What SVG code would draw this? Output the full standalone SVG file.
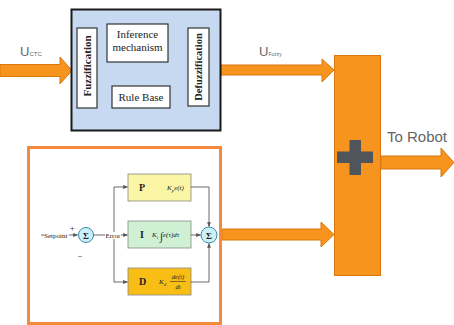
<svg xmlns="http://www.w3.org/2000/svg" width="454" height="325" viewBox="0 0 454 325">
<defs>
<marker id="ah" viewBox="0 0 10 10" refX="9" refY="5" markerWidth="5" markerHeight="5" orient="auto"><path d="M0,1 L10,5 L0,9 z" fill="#222"/></marker>
<marker id="ahs" viewBox="0 0 10 10" refX="9" refY="5" markerWidth="6" markerHeight="6" orient="auto"><path d="M0,1 L10,5 L0,9 z" fill="#555"/></marker>
<style>
.blk{fill:#fff;stroke:#333;stroke-width:1.2}
.ser{font-family:"Liberation Serif",serif;fill:#222}
.lbl{font-family:"Liberation Sans",Arial,sans-serif;fill:#666}
.oarr{fill:#F7941D;stroke:#D9780F;stroke-width:1}
.ln{fill:none;stroke:#444;stroke-width:0.8}
.sum{fill:#CDEFF8;stroke:#3A8FA8;stroke-width:1}
.pid{stroke:#888;stroke-width:0.8}
</style>
</defs>
<rect width="454" height="325" fill="#fff"/>
<g id="connectors">
<path class="oarr" d="M0,64.5 H60 V57 L72,70.5 L60,84 V76.5 H0 z"/>
<path class="oarr" d="M221,65 H322 V59 L334,70 L322,82 V75 H221 z"/>
<path class="oarr" d="M222,229 H321 V222 L334,234.5 L321,247 V240 H222 z"/>
<path class="oarr" d="M381,156 H441 V148 L454,162.5 L441,177 V169 H381 z"/>
<line class="ln" x1="97" y1="41" x2="106.5" y2="41" marker-end="url(#ah)"/>
<line class="ln" x1="168" y1="41" x2="187.5" y2="41" marker-end="url(#ah)"/>
<line class="ln" x1="144" y1="86" x2="144" y2="62.5" marker-end="url(#ah)"/>
</g>
<g id="label-uctc"><text class="lbl" x="20" y="56" font-size="13">U<tspan font-size="6" dy="0">CTC</tspan></text></g>
<g id="label-ufuzzy"><text class="lbl" x="259" y="56" font-size="13">U<tspan font-size="5">Fuzzy</tspan></text></g>
<g id="fuzzy-controller">
<rect x="71.5" y="9.5" width="149" height="121" fill="#C6D9F0" stroke="#1a1a1a" stroke-width="2"/>
</g>
<g id="fuzzification">
<rect class="blk" x="77" y="28" width="20" height="80"/>
<text class="ser" font-size="11" font-weight="bold" text-anchor="middle" transform="translate(90.5,66) rotate(-90)">Fuzzification</text>
</g>
<g id="inference">
<rect class="blk" x="107" y="24" width="61" height="38"/>
<text class="ser" font-size="11" text-anchor="middle" x="137.5" y="38">Inference</text>
<text class="ser" font-size="11" text-anchor="middle" x="137.5" y="51">mechanism</text>
</g>
<g id="defuzzification">
<rect class="blk" x="188" y="28" width="21" height="78"/>
<text class="ser" font-size="10.5" font-weight="bold" text-anchor="middle" transform="translate(202,67) rotate(-90)">Defuzzification</text>
</g>
<g id="rule-base">
<rect class="blk" x="112" y="86" width="58" height="22"/>
<text class="ser" font-size="11" text-anchor="middle" x="141" y="101">Rule Base</text>
</g>
<g id="pid-controller">
<rect x="28.5" y="147.5" width="192" height="176" fill="#fff" stroke="#F58A3A" stroke-width="3"/>
<line class="ln" x1="41" y1="235" x2="44" y2="235"/>
<text class="ser" font-size="7" x="44" y="237.5">Setpoint</text>
<line class="ln" x1="69" y1="235" x2="77.5" y2="235" marker-end="url(#ahs)"/>
<text class="ser" font-size="8" x="70" y="231">+</text>
<text class="ser" font-size="8" x="78" y="258">–</text>
<circle class="sum" cx="86" cy="235" r="7.5"/>
<text class="ser" font-size="9" font-weight="bold" text-anchor="middle" x="86" y="238.5">Σ</text>
<line class="ln" x1="93.5" y1="235" x2="105" y2="235"/>
<text class="ser" font-size="7" x="105.5" y="237.5">Error</text>
<line class="ln" x1="121" y1="235" x2="127.5" y2="235" marker-end="url(#ahs)"/>
<path class="ln" d="M114,232 V187 H127.5" marker-end="url(#ahs)"/>
<path class="ln" d="M114,239 V282 H127.5" marker-end="url(#ahs)"/>
<rect class="pid" x="128" y="174" width="63" height="27" fill="#FAF6A6"/>
<text class="ser" font-size="10" font-weight="bold" x="139" y="191">P</text>
<text class="ser" font-size="7" font-style="italic" x="167" y="190">K<tspan font-size="5" dy="1.5">p</tspan><tspan dy="-1.5">e(t)</tspan></text>
<rect class="pid" x="128" y="221" width="63" height="27" fill="#CFF0D2"/>
<text class="ser" font-size="10" font-weight="bold" x="140" y="238">I</text>
<text class="ser" font-size="7" font-style="italic" x="152" y="237">K<tspan font-size="5" dy="1.5">i</tspan><tspan font-size="11" font-style="normal" dy="1" x="160">∫</tspan><tspan dy="-2.5">e(τ)dτ</tspan></text>
<rect class="pid" x="128" y="268" width="63" height="27" fill="#F8BE16"/>
<text class="ser" font-size="10" font-weight="bold" x="139" y="285">D</text>
<text class="ser" font-size="7" font-style="italic" x="159" y="284">K<tspan font-size="5" dy="1.5">d</tspan></text>
<text class="ser" font-size="6.5" font-style="italic" text-anchor="middle" x="178" y="279">de(t)</text>
<line x1="170" y1="281.5" x2="186" y2="281.5" stroke="#333" stroke-width="0.6"/>
<text class="ser" font-size="6.5" font-style="italic" text-anchor="middle" x="178" y="289">dt</text>
<path class="ln" d="M191,187 H209 V226.5" marker-end="url(#ahs)"/>
<line class="ln" x1="191" y1="235" x2="200.5" y2="235" marker-end="url(#ahs)"/>
<path class="ln" d="M191,282 H209 V243.5" marker-end="url(#ahs)"/>
<circle class="sum" cx="209" cy="235" r="8"/>
<text class="ser" font-size="9" font-weight="bold" text-anchor="middle" x="209" y="238.5">Σ</text>
</g>
<g id="summer">
<rect x="334.5" y="55.5" width="46" height="220" fill="#F7941D" stroke="#D9780F" stroke-width="1"/>
<rect x="337" y="151.5" width="36" height="11.5" fill="#4F555B"/>
<rect x="349.5" y="140" width="11.5" height="35" fill="#4F555B"/>
</g>
<g id="label-robot"><text class="lbl" x="387" y="142" font-size="15" fill="#555">To Robot</text></g>
</svg>
